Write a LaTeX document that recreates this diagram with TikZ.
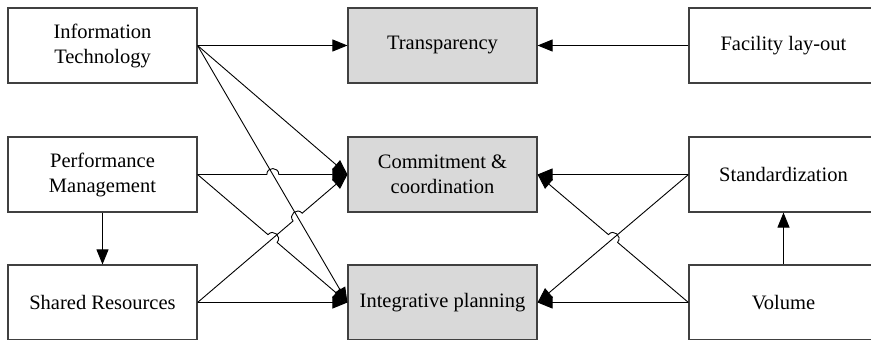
\documentclass[tikz,border=0pt]{standalone}
\usepackage{fontspec}
\setmainfont{Liberation Serif}
\usetikzlibrary{arrows.meta,calc}

\tikzset{
  factor/.style={draw=black!75, line width=1.1pt, minimum width=189pt, minimum height=75pt,
    inner sep=0pt, align=center, font=\fontsize{20.5}{25}\selectfont},
  outcome/.style={factor, fill=black!15},
  link/.style={-{Triangle[length=15pt,width=12pt]}, line width=0.9pt},
  hop/.style={bend left=90, looseness=1.7},
  hopr/.style={bend right=90, looseness=1.7},
}

\begin{document}
\begin{tikzpicture}[x=1pt, y=-1pt]
			\useasboundingbox (0,0) rectangle (871,340);
			\clip (0,0) rectangle (871,340);
			% antecedents
			\node[factor] (it) at (102.5,45.5) {Information\\Technology};
			\node[factor] (perf) at (102.5,174.5) {Performance\\Management};
			\node[factor] (shared) at (102.5,302.5) {Shared Resources};
			% outcomes
			\node[outcome] (transp) at (442.5,45.5) {Transparency};
			\node[outcome] (comm) at (442.5,174.5) {Commitment \&\\coordination};
			\node[outcome] (integ) at (442.5,302.5) {Integrative planning};
			% right hand factors
			\node[factor] (layout) at (783.5,45.5) {Facility lay-out};
			\node[factor] (std) at (783.5,174.5) {Standardization};
			\node[factor] (vol) at (783.5,302.5) {Volume};
			% crossings
			\coordinate (c1) at (intersection of it.east--integ.west and perf.east--comm.west);
			\coordinate (c2) at (intersection of it.east--integ.west and shared.east--comm.west);
			\coordinate (c3) at (intersection of perf.east--integ.west and shared.east--comm.west);
			\coordinate (c4) at (intersection of std.west--integ.east and vol.west--comm.east);
			% left links
			\draw[link] (it.east) -- (transp.west);
			\draw[link] (it.east) -- (comm.west);
			\draw[link] (it.east) -- (integ.west);
			\draw[link] (perf.east) -- ($(c1)!6pt!(perf.east)$) to[hop] ($(c1)!6pt!(comm.west)$) -- (comm.west);
			\draw[link] (perf.east) -- ($(c3)!6pt!(perf.east)$) to[hop] ($(c3)!6pt!(integ.west)$) -- (integ.west);
			\draw[link] (shared.east) -- ($(c2)!6pt!(shared.east)$) to[hop] ($(c2)!6pt!(comm.west)$) -- (comm.west);
			\draw[link] (shared.east) -- (integ.west);
			\draw[link] (perf.south) -- (shared.north);
			% right links
			\draw[link] (layout.west) -- (transp.east);
			\draw[link] (std.west) -- (comm.east);
			\draw[link] (std.west) -- (integ.east);
			\draw[link] (vol.west) -- ($(c4)!6pt!(vol.west)$) to[hopr] ($(c4)!6pt!(comm.east)$) -- (comm.east);
			\draw[link] (vol.west) -- (integ.east);
			\draw[link] (vol.north) -- (std.south);
			\end{tikzpicture}
\end{document}
